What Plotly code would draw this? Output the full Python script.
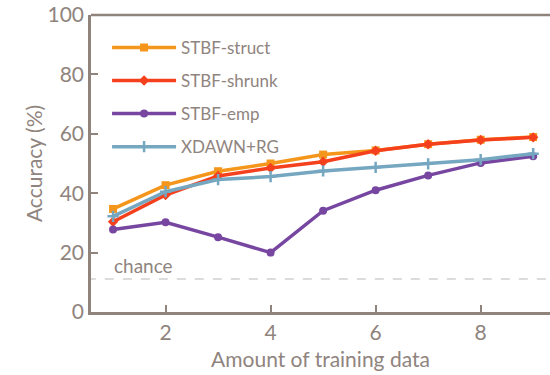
import plotly.graph_objects as go

# Amount of training data (x) and accuracy (%) for each method
training_amount = [1, 2, 3, 4, 5, 6, 7, 8, 9]
stbf_struct = [34.7, 42.7, 47.4, 50.0, 53.0, 54.4, 56.5, 58.0, 58.9]
stbf_shrunk = [30.4, 39.4, 45.8, 48.5, 50.6, 54.3, 56.5, 57.9, 58.8]
stbf_emp = [27.8, 30.2, 25.2, 20.0, 34.1, 41.0, 46.0, 50.2, 52.4]
xdawn_rg = [32.2, 40.5, 44.6, 45.6, 47.5, 48.7, 49.9, 51.3, 53.3]
chance_level = 100 / 9

series_names = ["STBF-struct", "STBF-shrunk", "STBF-emp", "XDAWN+RG"]
series_values = [stbf_struct, stbf_shrunk, stbf_emp, xdawn_rg]
series_colors = ["#f5961c", "#f5401e", "#7746a0", "#76a7c1"]
series_symbols = ["square", "diamond", "circle", "cross-thin"]

axis_color = "#8f837c"
text_color = "#8f847e"
font_family = "Lato, 'DejaVu Sans', sans-serif"

fig = go.Figure()

# chance level reference line
fig.add_trace(go.Scatter(
    x=[0.5, 10], y=[chance_level, chance_level], mode="lines",
    line=dict(color="#dcdcdc", width=2, dash="dash"),
    showlegend=False, hoverinfo="skip",
))

for name, vals, col, sym in zip(series_names, series_values, series_colors, series_symbols):
    marker = dict(symbol=sym, size=8, color=col)
    if sym == "cross-thin":
        marker.update(size=8, line=dict(color=col, width=2.5))
    fig.add_trace(go.Scatter(
        x=training_amount, y=vals, mode="lines+markers", name=name,
        legendgroup=name,
        line=dict(color=col, width=3.5), marker=marker,
    ))

fig.add_annotation(
    x=0.98, y=chance_level, xref="x", yref="y", text="chance",
    showarrow=False, xanchor="left", yanchor="bottom", yshift=0,
    font=dict(size=19, color=text_color, family=font_family),
)

fig.update_layout(
    width=550, height=375,
    margin=dict(l=91, r=0, t=15, b=63),
    paper_bgcolor="white", plot_bgcolor="white",
    font=dict(family=font_family, color=text_color, size=20),
    legend=dict(
        x=0.035, y=0.95, xanchor="left", yanchor="top",
        bgcolor="rgba(0,0,0,0)", font=dict(size=17, color=text_color),
        itemwidth=64, tracegroupgap=8,
    ),
    xaxis=dict(
        range=[0.58, 9.32], tickvals=[2, 4, 6, 8],
        ticks="inside", ticklen=7, tickcolor=axis_color, tickwidth=2,
        showline=True, linecolor=axis_color, linewidth=2.5,
        showgrid=False, zeroline=False, mirror=False,
        title=dict(text="Amount of training data", font=dict(size=21), standoff=10),
        tickfont=dict(size=21),
    ),
    yaxis=dict(
        range=[0, 100], tickvals=[0, 20, 40, 60, 80, 100],
        ticks="inside", ticklen=7, tickcolor=axis_color, tickwidth=2,
        showline=True, linecolor=axis_color, linewidth=2.5,
        showgrid=False, zeroline=False,
        title=dict(text="Accuracy (%)", font=dict(size=21), standoff=0),
        tickfont=dict(size=21),
    ),
)

# top frame line
fig.add_shape(type="line", xref="paper", yref="paper", x0=0, x1=1, y0=1, y1=1,
              line=dict(color=axis_color, width=2.5))

fig.write_html("out.html")
